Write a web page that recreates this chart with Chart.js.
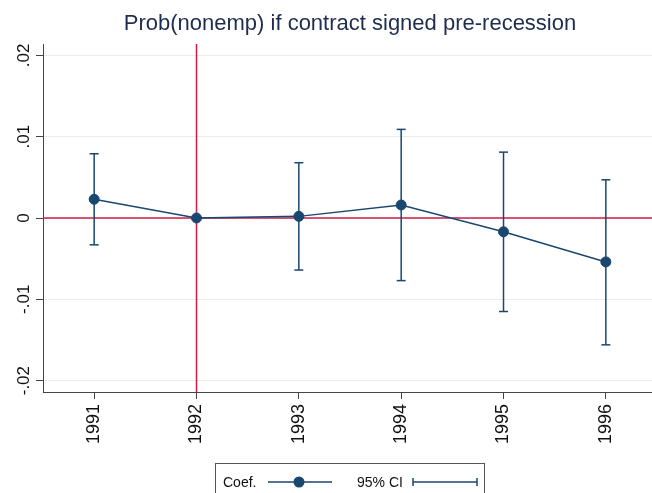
<!DOCTYPE html>
<html>
<head>
<meta charset="utf-8">
<script src="https://cdn.jsdelivr.net/npm/chart.js@4.4.0/dist/chart.umd.min.js"></script>
<style>
  html, body { margin: 0; padding: 0; background: #fff; overflow: hidden; }
  #wrap { position: relative; width: 652px; height: 493px; overflow: hidden; }
  #c { position: absolute; left: 0; top: 0; }
  #legend {
    position: absolute; left: 215px; top: 463px; width: 270px; height: 40px;
    border: 1px solid #555; box-sizing: border-box;
    font-family: "Liberation Sans", Arial, sans-serif; font-size: 14px; color: #111;
  }
  #legend span { position: absolute; top: 10px; line-height: 16px; white-space: nowrap; }
  #legend svg { position: absolute; top: 11px; }
</style>
</head>
<body>
<div id="wrap">
  <canvas id="c" width="700" height="493"></canvas>
  <div id="legend">
    <span style="left:7px">Coef.</span>
    <svg style="left:52px" width="64" height="14">
      <line x1="0" y1="7" x2="64" y2="7" stroke="#1a476f" stroke-width="1.5"/>
      <circle cx="31" cy="7" r="5.5" fill="#1a476f"/>
    </svg>
    <span style="left:141px">95% CI</span>
    <svg style="left:196px" width="66" height="14">
      <line x1="1" y1="7" x2="65" y2="7" stroke="#1a476f" stroke-width="1.5"/>
      <line x1="1" y1="3" x2="1" y2="11" stroke="#1a476f" stroke-width="1.5"/>
      <line x1="65" y1="3" x2="65" y2="11" stroke="#1a476f" stroke-width="1.5"/>
    </svg>
  </div>
</div>
<script>
// data
var years = [1991, 1992, 1993, 1994, 1995, 1996];
var coef = [0.0023, 0, 0.0002, 0.0016, -0.0017, -0.0054];
var ciLow = [-0.0033, null, -0.0064, -0.0077, -0.0115, -0.0156];
var ciHigh = [0.0079, null, 0.0068, 0.0109, 0.0081, 0.0047];
var yTicks = [-0.02, -0.01, 0, 0.01, 0.02];
var xRefs = [1992];
var yRefs = [0];

var navy = "#1a476f";
var red = "#cf1c44";
var font = "'Liberation Sans', Arial, sans-serif";

var coefPoints = years.map(function (y, i) { return { x: y, y: coef[i] }; });
var ciPoints = [];
years.forEach(function (y, i) {
  if (ciLow[i] === null) return;
  ciPoints.push({ x: y, y: ciLow[i] }, { x: y, y: ciHigh[i] }, { x: y, y: null });
});

var refLines = {
  id: "refLines",
  beforeDatasetsDraw: function (chart) {
    var ctx = chart.ctx, area = chart.chartArea, sx = chart.scales.x, sy = chart.scales.y;
    ctx.save();
    ctx.strokeStyle = red;
    ctx.lineWidth = 1.5;
    xRefs.forEach(function (v) {
      var px = sx.getPixelForValue(v);
      ctx.beginPath(); ctx.moveTo(px, area.top); ctx.lineTo(px, area.bottom); ctx.stroke();
    });
    yRefs.forEach(function (v) {
      var py = sy.getPixelForValue(v);
      ctx.beginPath(); ctx.moveTo(area.left, py); ctx.lineTo(area.right, py); ctx.stroke();
    });
    ctx.restore();
  }
};

function fmtY(v) {
  if (v === 0) return "0";
  return (v < 0 ? "-" : "") + Math.abs(v).toFixed(2).replace(/^0/, "");
}

new Chart(document.getElementById("c").getContext("2d"), {
  type: "line",
  data: {
    datasets: [
      {
        label: "Coef.",
        data: coefPoints,
        borderColor: navy,
        backgroundColor: navy,
        borderWidth: 1.5,
        pointRadius: 5,
        pointBorderWidth: 1,
        pointBackgroundColor: navy,
        pointBorderColor: navy,
        tension: 0,
        order: 0
      },
      {
        label: "95% CI",
        data: ciPoints,
        borderColor: navy,
        borderWidth: 1.5,
        pointStyle: "line",
        pointRadius: 4.5,
        pointBorderWidth: 1.5,
        pointBorderColor: navy,
        spanGaps: false,
        order: 1
      }
    ]
  },
  options: {
    responsive: false,
    animation: false,
    layout: { padding: 0, autoPadding: false },
    plugins: {
      legend: { display: false },
      tooltip: { enabled: false },
      title: {
        display: true,
        text: "Prob(nonemp) if contract signed pre-recession",
        color: "#1e2d4f",
        font: { family: font, size: 22, weight: "normal" },
        padding: { top: 11, bottom: 6.6 }
      }
    },
    scales: {
      x: {
        type: "linear",
        min: 1990.5,
        max: 1996.92,
        afterBuildTicks: function (s) { s.ticks = years.map(function (v) { return { value: v }; }); },
        afterFit: function (s) { s.height = 101; },
        ticks: {
          minRotation: 90, maxRotation: 90, padding: 5,
          color: "#111",
          font: { family: font, size: 18 },
          callback: function (v) { return String(v); }
        },
        grid: { drawOnChartArea: false, tickLength: 7, tickColor: "#444", tickWidth: 1 },
        border: { color: "#444", width: 1 }
      },
      y: {
        min: -0.0214,
        max: 0.0214,
        afterBuildTicks: function (s) { s.ticks = yTicks.map(function (v) { return { value: v }; }); },
        afterFit: function (s) { s.width = 43; },
        ticks: {
          minRotation: 90, maxRotation: 90, padding: -3,
          crossAlign: "center",
          color: "#111",
          font: { family: font, size: 17 },
          callback: fmtY
        },
        grid: { color: "#e6eef1", lineWidth: 1, tickLength: 7, tickColor: "#444", tickWidth: 1 },
        border: { color: "#444", width: 1 }
      }
    }
  },
  plugins: [refLines]
});
</script>
</body>
</html>
